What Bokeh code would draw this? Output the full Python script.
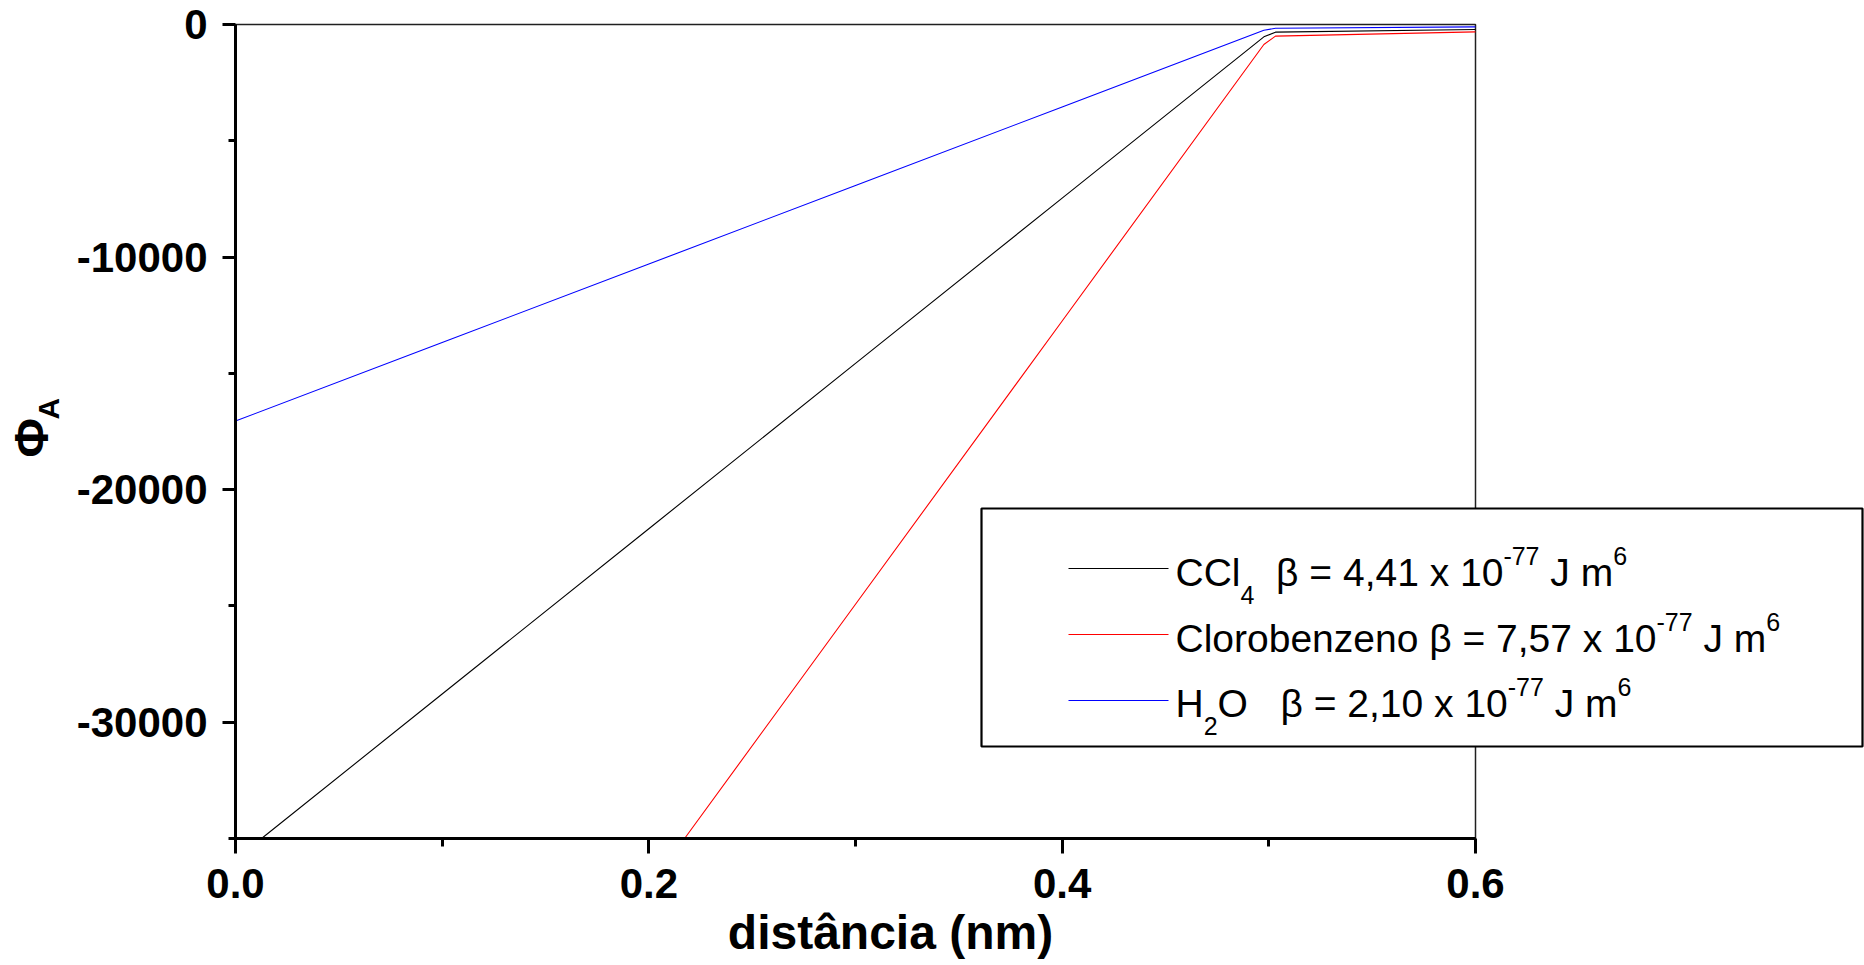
import math
from bokeh.plotting import figure
from bokeh.models import (Range1d, FixedTicker, PrintfTickFormatter, Label,
                          BoxAnnotation, Arrow)
from bokeh.embed import file_html
from bokeh.resources import INLINE

# ---- data (visible part of each curve) ----
dist_ccl4 = [0.0126, 0.1, 0.2, 0.3, 0.4, 0.4976, 0.5032, 0.6]
phi_ccl4 = [-35000, -28787, -21680, -14573, -7466, -530, -330, -215]

dist_clorobenzeno = [0.2173, 0.3, 0.4, 0.4976, 0.5032, 0.6]
phi_clorobenzeno = [-35000, -24927, -12747, -860, -500, -315]

dist_h2o = [0.0, 0.1, 0.2, 0.3, 0.4, 0.4976, 0.5032, 0.6]
phi_h2o = [-17050, -13674, -10298, -6921, -3545, -250, -160, -100]

series_colors = ["#000000", "#ff0000", "#0000ff"]

x_lim = (0.0, 0.6)
y_lim = (-35000, 0)
x_major = [0.0, 0.2, 0.4, 0.6]
x_minor = [0.1, 0.3, 0.5]
y_major = [-30000, -20000, -10000, 0]
y_minor = [-35000, -25000, -15000, -5000]

FONT = "Liberation Sans"

W, H = 1864, 965
FL, FT, FR, FB = 235, 24, 1475, 838   # plot-box edges in page pixels

# the frame spans the whole canvas; the axes sit at fixed data locations
px_x = (FR - FL) / (x_lim[1] - x_lim[0])
px_y = (FB - FT) / (y_lim[1] - y_lim[0])
x_range = Range1d(x_lim[0] - FL / px_x, x_lim[1] + (W - FR) / px_x)
y_range = Range1d(y_lim[0] - (H - FB) / px_y, y_lim[1] + FT / px_y)

p = figure(width=W, height=H, output_backend="svg", toolbar_location=None,
           x_range=x_range, y_range=y_range,
           min_border=0, min_border_left=0, min_border_right=0,
           min_border_top=0, min_border_bottom=0)
p.background_fill_color = "white"
p.border_fill_color = "white"
p.outline_line_color = None
p.xgrid.visible = False
p.ygrid.visible = False

for ax, maj, mnr, fmt in ((p.xaxis[0], x_major, x_minor, "%.1f"),
                          (p.yaxis[0], y_major, y_minor, "%d")):
    ax.ticker = FixedTicker(ticks=maj, minor_ticks=mnr)
    ax.formatter = PrintfTickFormatter(format=fmt)
    ax.axis_line_width = 3
    ax.axis_line_color = "black"
    ax.major_tick_line_width = 3
    ax.minor_tick_line_width = 3
    ax.major_tick_in = 0
    ax.minor_tick_in = 0
    ax.major_label_text_font = FONT
    ax.major_label_text_font_style = "bold"
    ax.major_label_text_font_size = "42px"
    ax.major_label_text_color = "black"

p.xaxis[0].fixed_location = y_lim[0]
p.xaxis[0].bounds = x_lim
p.yaxis[0].fixed_location = x_lim[0]
p.yaxis[0].bounds = y_lim
p.yaxis[0].major_tick_out = 13
p.yaxis[0].minor_tick_out = 7
p.yaxis[0].major_label_standoff = 15
p.xaxis[0].major_tick_out = 15
p.xaxis[0].minor_tick_out = 8
p.xaxis[0].major_label_standoff = 15

# plot-box border (top / right edges visible)
p.add_layout(BoxAnnotation(left=x_lim[0], right=x_lim[1], bottom=y_lim[0],
                           top=y_lim[1], fill_alpha=0, line_color="#202020",
                           line_alpha=1.0, line_width=1.5, level="underlay"))

for xs, ys, c in ((dist_ccl4, phi_ccl4, series_colors[0]),
                  (dist_clorobenzeno, phi_clorobenzeno, series_colors[1]),
                  (dist_h2o, phi_h2o, series_colors[2])):
    p.line(xs, ys, line_color=c, line_width=1.1)

# helpers: page pixels -> screen units (frame == canvas, y upward)
def sx(px):
    return px

def sy(py):
    return H - py

def base_fix(size):
    # the renderer puts the alphabetic baseline about 0.2 em lower
    return 0.2 * size

# ---- axis titles ----
p.add_layout(Label(x=sx(890), y=sy(942 - base_fix(48)), x_units="screen",
                   y_units="screen", text="distância (nm)", text_font=FONT,
                   text_font_style="bold", text_font_size="48px",
                   text_align="center", text_baseline="alphabetic",
                   text_color="black"))
p.add_layout(Label(x=sx(41 - base_fix(48)), y=sy(457), x_units="screen",
                   y_units="screen", text="Φ", text_font=FONT,
                   text_font_style="bold", text_font_size="48px",
                   angle=math.pi / 2, text_align="left",
                   text_baseline="alphabetic", text_color="black"))
p.add_layout(Label(x=sx(58 - base_fix(30) - 4), y=sy(419), x_units="screen",
                   y_units="screen", text="A", text_font=FONT,
                   text_font_style="bold", text_font_size="30px",
                   angle=math.pi / 2, text_align="left",
                   text_baseline="alphabetic", text_color="black"))

# ---- legend ----
p.add_layout(BoxAnnotation(left=sx(981), right=sx(1862), top=sy(508),
                           bottom=sy(746), left_units="screen",
                           right_units="screen", top_units="screen",
                           bottom_units="screen", fill_color="white",
                           fill_alpha=1.0, line_color="black", line_alpha=1.0,
                           line_width=2.2, level="overlay"))

legend_rows = [
    [("CCl", "n"), ("4", "sub"), ("  β = 4,41 x 10", "n"), ("-77", "sup"),
     (" J m", "n"), ("6", "sup")],
    [("Clorobenzeno β = 7,57 x 10", "n"), ("-77", "sup"), (" J m", "n"),
     ("6", "sup")],
    [("H", "n"), ("2", "sub"), ("O", "n"), ("   β = 2,10 x 10", "n"),
     ("-77", "sup"), (" J m", "n"), ("6", "sup")],
]

WID = {' ': 278, 'C': 722, 'l': 222, 'o': 556, 'r': 333, 'b': 556, 'e': 556,
       'n': 556, 'z': 500, 'β': 575, '=': 584, ',': 278, 'x': 500, '-': 333,
       'J': 500, 'm': 833, 'H': 722, 'O': 778}

def tw(s, size):
    return sum(WID.get(ch, 556) for ch in s) / 1000.0 * size

MAIN, SMALL = 39, 25
row_base = [580, 646, 711]
line_y = [568, 634, 700]

for row, base, ly, col in zip(legend_rows, row_base, line_y, series_colors):
    p.add_layout(Arrow(x_start=sx(1068), y_start=sy(ly), x_end=sx(1168),
                       y_end=sy(ly), start_units="screen", end_units="screen",
                       start=None, end=None, line_color=col, line_width=1.2,
                       level="overlay"))
    cx = 1175.0
    for txt, kind in row:
        size = MAIN if kind == "n" else SMALL
        dy = 0 if kind == "n" else (19 if kind == "sub" else -20)
        lead = len(txt) - len(txt.lstrip(" "))
        cx += tw(" " * lead, size)
        body = txt.lstrip(" ")
        p.add_layout(Label(x=sx(cx), y=sy(base + dy - base_fix(size)),
                           x_units="screen", y_units="screen", text=body,
                           text_font=FONT, text_font_size=f"{size}px",
                           text_align="left", text_baseline="alphabetic",
                           text_color="black", level="overlay"))
        cx += tw(body, size)

open("out.html", "w").write(file_html(p, INLINE))
